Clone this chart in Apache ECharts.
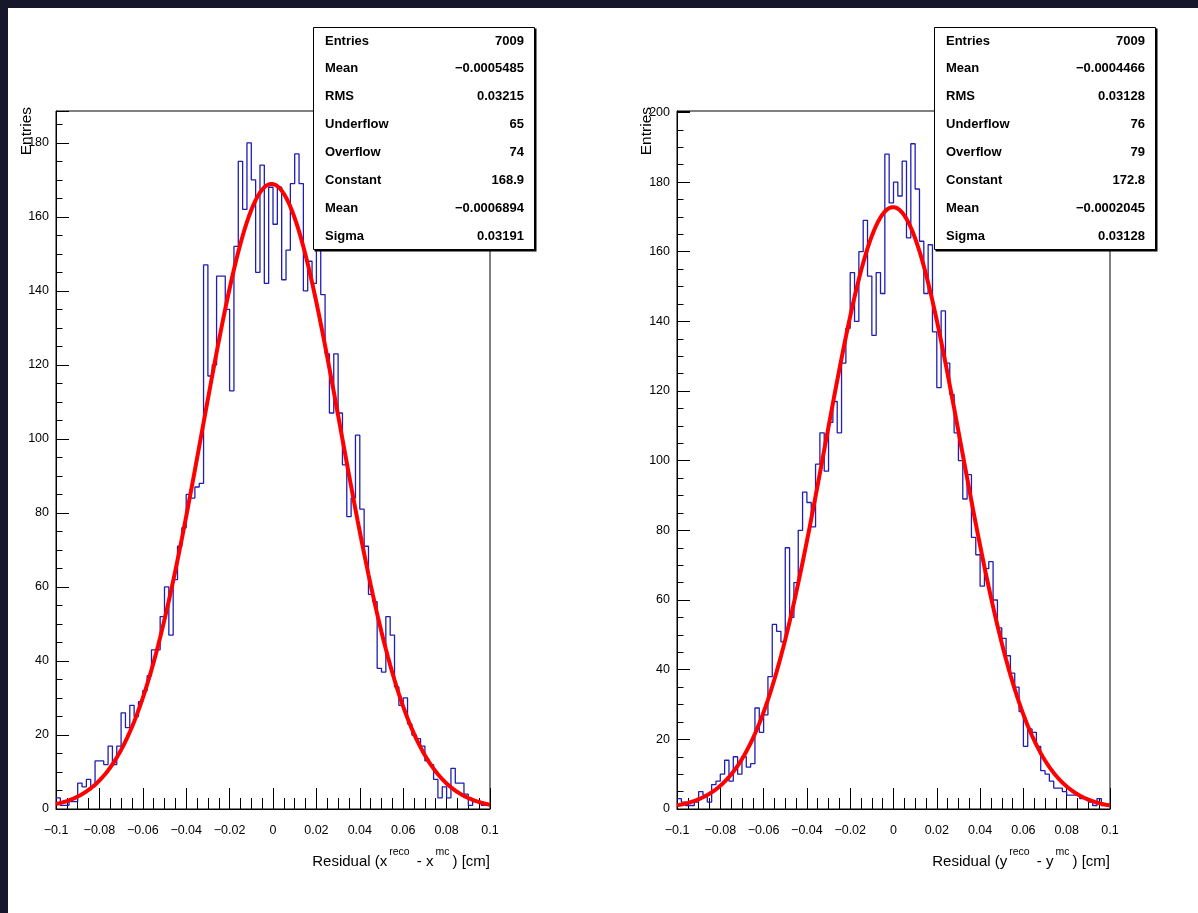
<!DOCTYPE html>
<html><head><meta charset="utf-8">
<script src="https://cdn.jsdelivr.net/npm/echarts@6/dist/echarts.min.js"></script>
<style>html,body{margin:0;padding:0;background:#fff;}#c{width:1198px;height:913px;}</style>
</head><body><div id="c"></div>
<script>
// ---------- data ----------
const histRange = [-0.1, 0.1];
const nBins = 100;
const countsX = [3,1,1,2,2,7,6,8,6,13, 13,12,17,12,17,26,22,28,25,29,
  32,36,43,43,52,60,47,62,71,76, 85,84,87,88,147,117,120,144,144,135,
  113,152,175,162,180,170,145,174,142,168, 158,168,143,151,169,177,169,140,148,142,
  153,139,123,107,123,107,93,79,84,101, 81,71,58,56,38,37,52,47,33,28,
  30,23,20,19,17,13,12,8,3,6, 3,11,7,7,4,1,2,2,1,1];
const countsY = [3,2,1,1,2,5,4,2,7,8, 10,14,8,15,10,15,12,13,29,22,
  27,38,53,51,48,75,55,65,80,91, 88,81,99,108,97,111,117,108,128,138,
  154,140,160,169,153,136,154,148,188,174, 180,176,186,164,191,178,163,148,162,137,
  121,143,128,119,108,100,89,96,78,73, 64,69,71,60,52,49,44,39,35,28,
  18,23,22,18,11,10,8,6,6,5, 4,4,4,3,3,2,1,3,1,1];
const fitX = [168.9, -0.0006894, 0.03191];   // Constant, Mean, Sigma
const fitY = [172.8, -0.0002045, 0.03128];
const xTickLabels = ['\u22120.1','\u22120.08','\u22120.06','\u22120.04','\u22120.02','0','0.02','0.04','0.06','0.08','0.1'];
const yTickLabelsLeft = ['0','20','40','60','80','100','120','140','160','180'];
const yTickLabelsRight = ['0','20','40','60','80','100','120','140','160','180','200'];
const yMaxLeft = 188.6, yMaxRight = 200.4;
const statNames = ['Entries','Mean','RMS','Underflow','Overflow','Constant','Mean','Sigma'];
const statValuesX = ['7009','\u22120.0005485','0.03215','65','74','168.9','\u22120.0006894','0.03191'];
const statValuesY = ['7009','\u22120.0004466','0.03128','76','79','172.8','\u22120.0002045','0.03128'];
const xTitleVar = ['x','y'];
const yTitle = 'Entries';

// ---------- build ----------
const FONT = '"Liberation Sans", Arial, Helvetica, sans-serif';
const bw = (histRange[1]-histRange[0])/nBins;
function histData(c){
  const d = [];
  for (let i=0;i<c.length;i++) d.push([histRange[0]+i*bw, c[i]]);
  d.push([histRange[1], c[c.length-1]]);
  return d;
}
function fitData(p){
  const d = [];
  const n = 200;
  for (let i=0;i<=n;i++){
    const x = histRange[0] + (histRange[1]-histRange[0])*i/n;
    d.push([x, p[0]*Math.exp(-0.5*Math.pow((x-p[1])/p[2],2))]);
  }
  return d;
}
function mkX(g){
  return {type:'value', gridIndex:g, min:-0.1, max:0.1, interval:0.02,
    axisLine:{show:true,onZero:false,lineStyle:{color:'#000',width:1}},
    axisTick:{show:true,inside:true,length:21,lineStyle:{color:'#000',width:1}},
    minorTick:{show:true,splitNumber:4,length:11,lineStyle:{color:'#000',width:1}},
    splitLine:{show:false}, minorSplitLine:{show:false},
    axisLabel:{margin:15,fontSize:12.5,color:'#000',fontFamily:FONT,
      formatter:v=>{const i=Math.round((v+0.1)/0.02); return xTickLabels[i]||'';}}};
}
function mkY(g,max,labels){
  return [{type:'value', gridIndex:g, position:'left', min:0, max:max, interval:20,
    axisLine:{show:true,onZero:false,lineStyle:{color:'#000',width:1}},
    axisTick:{show:true,inside:true,length:13,lineStyle:{color:'#000',width:1}},
    splitLine:{show:false},
    axisLabel:{margin:7,fontSize:12.5,color:'#000',fontFamily:FONT,
      formatter:v=>{const i=Math.round(v/20); return (Math.abs(v-i*20)<1e-6 && labels[i]!==undefined)?labels[i]:'';}}},
   {type:'value', gridIndex:g, position:'left', offset:0, min:0, max:max, interval:5,
    axisLine:{show:false,onZero:false}, axisLabel:{show:false}, splitLine:{show:false},
    axisTick:{show:true,inside:true,length:6.5,lineStyle:{color:'#000',width:1}}}];
}
function statsBox(x0, values){
  const els = [
    {type:'rect', z:100, shape:{x:x0+1.5,y:28.5,width:222,height:223}, style:{fill:'#000'}},
    {type:'rect', z:101, shape:{x:x0+0.5,y:27.5,width:221,height:222}, style:{fill:'#fff',stroke:'#000',lineWidth:1}}
  ];
  statNames.forEach((n,i)=>{
    const y = 41 + i*27.9;
    els.push({type:'text', z:102, x:x0+12, y:y, style:{text:n, fill:'#000', fontSize:13, fontWeight:'bold', fontFamily:FONT, align:'left', verticalAlign:'middle'}});
    els.push({type:'text', z:102, x:x0+211, y:y, style:{text:values[i], fill:'#000', fontSize:13, fontWeight:'bold', fontFamily:FONT, align:'right', verticalAlign:'middle'}});
  });
  return els;
}
function xTitle(xr, v){
  return {type:'text', z:50, x:xr, y:858, style:{
    text:'{n|Residual (' + v + '}{s|reco}{n| - ' + v + '}{s|mc}{n|) [cm]}',
    align:'right', verticalAlign:'middle',
    rich:{n:{fontSize:15,fontFamily:FONT,fill:'#000',color:'#000',lineHeight:22,verticalAlign:'bottom'},
          s:{fontSize:10.5,fontFamily:FONT,fill:'#000',color:'#000',lineHeight:9,verticalAlign:'top',padding:[0,3,0,2]}}}};
}
function yTitleEl(x){
  return {type:'text', z:50, x:x, y:107, rotation:Math.PI/2, style:{text:yTitle, fill:'#000', fontSize:15.5, fontFamily:FONT, align:'right', verticalAlign:'middle'}};
}

const chart = echarts.init(document.getElementById('c'), null, {renderer:'canvas', width:1198, height:913});
chart.setOption({
  animation:false,
  backgroundColor:'#fff',
  grid:[
    {left:56, top:111, width:434, height:698, show:true, borderColor:'#000', borderWidth:1, backgroundColor:'transparent'},
    {left:677, top:111, width:433, height:698, show:true, borderColor:'#000', borderWidth:1, backgroundColor:'transparent'}
  ],
  xAxis:[mkX(0), mkX(1)],
  yAxis:[...mkY(0,yMaxLeft,yTickLabelsLeft), ...mkY(1,yMaxRight,yTickLabelsRight)],
  series:[
    {type:'line', xAxisIndex:0, yAxisIndex:0, data:histData(countsX), step:'end', symbol:'none', lineStyle:{color:'#1e1eb4',width:1.3}, z:2},
    {type:'line', xAxisIndex:0, yAxisIndex:0, data:fitData(fitX), symbol:'none', lineStyle:{color:'#ff0000',width:4}, z:3},
    {type:'line', xAxisIndex:1, yAxisIndex:2, data:histData(countsY), step:'end', symbol:'none', lineStyle:{color:'#1e1eb4',width:1.3}, z:2},
    {type:'line', xAxisIndex:1, yAxisIndex:2, data:fitData(fitY), symbol:'none', lineStyle:{color:'#ff0000',width:4}, z:3}
  ],
  graphic:[
    {type:'rect', z:200, shape:{x:0,y:0,width:1198,height:8}, style:{fill:'#17172b'}},
    {type:'rect', z:200, shape:{x:0,y:0,width:8,height:913}, style:{fill:'#17172b'}},
    ...statsBox(313, statValuesX),
    ...statsBox(934, statValuesY),
    xTitle(490, xTitleVar[0]), xTitle(1110, xTitleVar[1]),
    yTitleEl(27), yTitleEl(647)
  ]
});
</script>
</body></html>
